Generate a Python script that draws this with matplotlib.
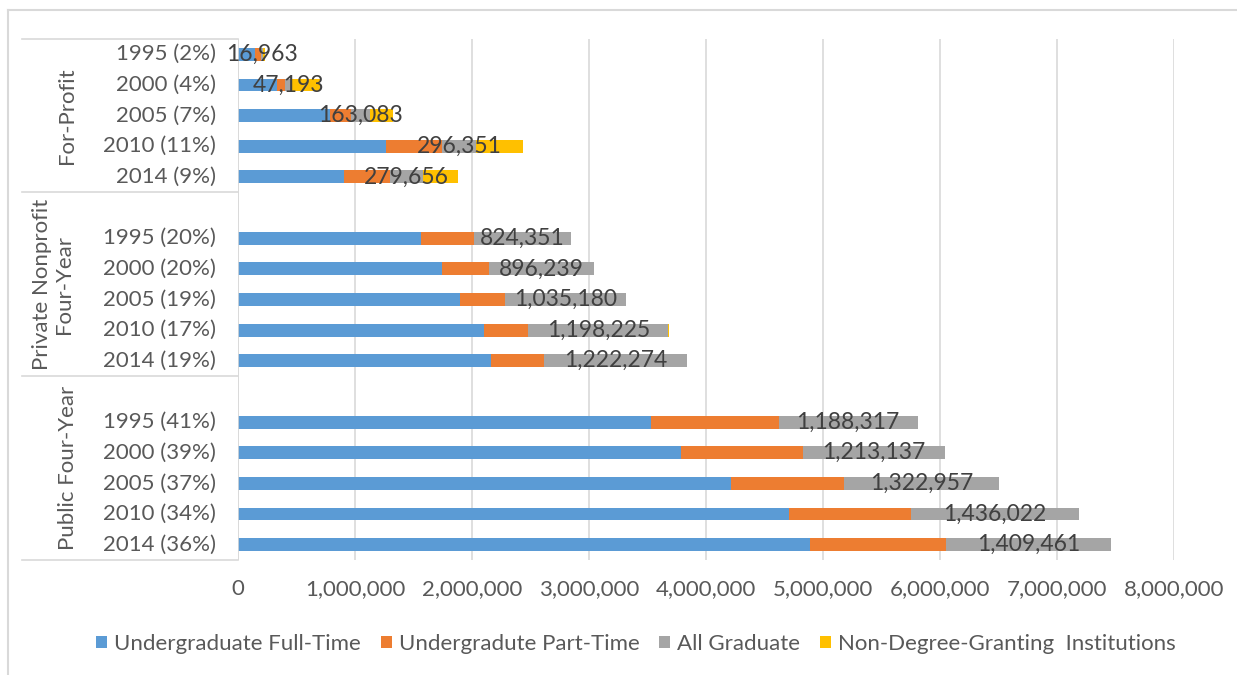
import matplotlib
matplotlib.use("Agg")
import matplotlib.pyplot as plt
from matplotlib.lines import Line2D
from matplotlib.patches import Patch
from matplotlib.ticker import FuncFormatter

# ---- data -------------------------------------------------------------
groups = ["For-Profit", "Private Nonprofit\nFour-Year", "Public Four-Year"]
years = ["1995", "2000", "2005", "2010", "2014"]
shares = [
    ["2%", "4%", "7%", "11%", "9%"],
    ["20%", "20%", "19%", "17%", "19%"],
    ["41%", "39%", "37%", "34%", "36%"],
]

series_names = ["Undergraduate Full-Time", "Undergradute Part-Time",
                "All Graduate", "Non-Degree-Granting  Institutions"]

for_profit_ft = [145000, 330000, 790000, 1265000, 905000]
for_profit_pt = [50000, 75000, 172000, 475000, 395000]
for_profit_grad = [16963, 47193, 163083, 296351, 279656]
for_profit_nondeg = [20000, 250000, 200000, 400000, 300000]

private_ft = [1560000, 1740000, 1900000, 2100000, 2160000]
private_pt = [460000, 405000, 380000, 380000, 455000]
private_grad = [824351, 896239, 1035180, 1198225, 1222274]
private_nondeg = [3000, 3000, 3000, 3000, 3000]

public_ft = [3530000, 3790000, 4210000, 4710000, 4890000]
public_pt = [1090000, 1040000, 970000, 1040000, 1160000]
public_grad = [1188317, 1213137, 1322957, 1436022, 1409461]
public_nondeg = [3000, 3000, 3000, 3000, 3000]

x_ticks = [0, 1000000, 2000000, 3000000, 4000000, 5000000, 6000000, 7000000, 8000000]

colors = ["#5B9BD5", "#ED7D31", "#A5A5A5", "#FFC000"]
text_dark = "#404040"
tick_col = "#595959"
line_col = "#D9D9D9"

plt.rcParams["font.family"] = ["Lato", "DejaVu Sans"]
FS = 16

W, H = 1237, 675
fig = plt.figure(figsize=(W / 100, H / 100), dpi=100)

# plot area in pixel terms
left_px, right_px, top_px, bottom_px = 238, 1174, 39, 560
ax = fig.add_axes([left_px / W, 1 - bottom_px / H,
                   (right_px - left_px) / W, (bottom_px - top_px) / H])

data = [
    (for_profit_ft, for_profit_pt, for_profit_grad, for_profit_nondeg),
    (private_ft, private_pt, private_grad, private_nondeg),
    (public_ft, public_pt, public_grad, public_nondeg),
]

bar_h = 0.42
for g, series in enumerate(data):
    pos = [g * 6 + i for i in range(len(years))]
    left = [0] * len(years)
    for s, vals in enumerate(series):
        ax.barh(pos, vals, left=left, height=bar_h, color=colors[s],
                edgecolor="none", zorder=3)
        if s == 2:
            for p, l, v in zip(pos, left, vals):
                ax.text(l + v / 2, p, f"{v:,}", ha="center", va="center",
                        fontsize=FS + 0.5, color=text_dark, zorder=5)
        left = [a + b for a, b in zip(left, vals)]

ax.set_xlim(0, 8000000)
ax.set_ylim(16.5, -0.5)
ax.set_xticks(x_ticks)
ax.xaxis.set_major_formatter(FuncFormatter(lambda v, _: f"{int(v):,}"))
ax.tick_params(axis="x", length=0, pad=14, labelsize=FS, labelcolor=tick_col)
ax.set_yticks([])
ax.grid(axis="x", color=line_col, linewidth=1.2, zorder=0)
for sp in ax.spines.values():
    sp.set_visible(False)
ax.axvline(0, color=line_col, linewidth=1.2, zorder=4)

# category table on the left
ytr = ax.get_yaxis_transform()
x_tab = (22 - left_px) / (right_px - left_px)
for yb in [-0.5, 4.5, 10.5, 16.5]:
    ax.add_line(Line2D([x_tab, 0], [yb, yb], transform=ytr, color=line_col,
                       linewidth=1.2, clip_on=False))

x_year = (216 - left_px) / (right_px - left_px)
for g in range(3):
    for i, y in enumerate(years):
        ax.text(x_year, g * 6 + i, f"{y} ({shares[g][i]})", transform=ytr,
                ha="right", va="center", fontsize=FS, color=tick_col)

group_centers = [2.0, 7.5, 13.5]
group_x = [67, 53, 68]
for name, yc, gx in zip(groups, group_centers, group_x):
    ax.text((gx - left_px) / (right_px - left_px), yc, name, transform=ytr,
            rotation=90, ha="center", va="center", multialignment="center",
            fontsize=FS, color=tick_col, linespacing=1.15)

# legend
handles = [Patch(facecolor=c, edgecolor="none") for c in colors]
fig.legend(handles, series_names, loc="center", bbox_to_anchor=(636 / W, 1 - 644 / H),
           ncol=4, frameon=False, fontsize=FS, labelcolor=tick_col,
           handlelength=0.5, handleheight=0.5, handletextpad=0.3,
           columnspacing=0.9)

# chart area border
fig.add_artist(Line2D([8 / W, 1], [1 - 10 / H, 1 - 10 / H], transform=fig.transFigure,
                      color=line_col, linewidth=1.5))
fig.add_artist(Line2D([8 / W, 8 / W], [1 - 10 / H, 0], transform=fig.transFigure,
                      color=line_col, linewidth=1.5))

fig.savefig("out.png", dpi=100, facecolor="white")
